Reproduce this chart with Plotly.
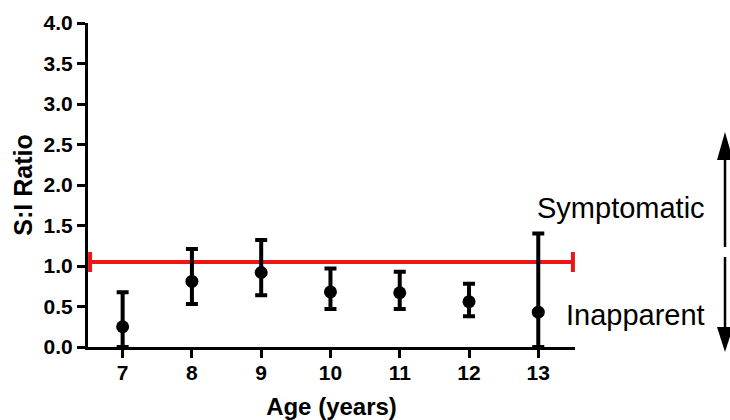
import plotly.graph_objects as go

ages = [7, 8, 9, 10, 11, 12, 13]
ratio = [0.25, 0.81, 0.92, 0.68, 0.67, 0.56, 0.43]
upper = [0.675, 1.21, 1.32, 0.97, 0.93, 0.78, 1.40]
lower = [0.0, 0.53, 0.64, 0.47, 0.47, 0.38, 0.0]
ref_y = 1.05
ref_x = [6.53, 13.5]
x_ticks = ages
y_ticks = [0, 0.5, 1.0, 1.5, 2.0, 2.5, 3.0, 3.5, 4.0]

W, H = 730, 420
L, T = 88, 23
R = W - 575
B = H - 347
PW, PH = W - L - R, H - T - B

def px(xp):
    return (xp - L) / PW

def py(yp):
    return (H - B - yp) / PH

FONT = "Liberation Sans, Arial, sans-serif"
RED = "#ee1515"

fig = go.Figure()

ref_c = (ref_x[0] + ref_x[1]) / 2
fig.add_trace(go.Scatter(
    x=[ref_c], y=[ref_y], mode="markers",
    marker=dict(size=0.1, color=RED, opacity=0),
    error_x=dict(type="data", symmetric=True, array=[(ref_x[1] - ref_x[0]) / 2],
                 color=RED, thickness=4, width=10),
    cliponaxis=False, showlegend=False, hoverinfo="skip"))

fig.add_trace(go.Scatter(
    x=ages, y=ratio, mode="markers",
    marker=dict(size=13, color="black"),
    error_y=dict(type="data", symmetric=False,
                 array=[u - r for u, r in zip(upper, ratio)],
                 arrayminus=[r - l for r, l in zip(ratio, lower)],
                 color="black", thickness=4, width=6),
    cliponaxis=False, showlegend=False))

# text labels on right
fig.add_annotation(x=px(621), y=py(208), xref="paper", yref="paper",
                   xanchor="center", yanchor="middle",
                   text="Symptomatic", showarrow=False,
                   font=dict(family=FONT, size=29, color="black"))
fig.add_annotation(x=px(635), y=py(315), xref="paper", yref="paper",
                   xanchor="center", yanchor="middle",
                   text="Inapparent", showarrow=False,
                   font=dict(family=FONT, size=29, color="black"))

# double arrow
AX = 725
fig.add_shape(type="line", xref="paper", yref="paper",
              x0=px(AX), x1=px(AX), y0=py(158), y1=py(247),
              line=dict(color="black", width=2.5))
fig.add_shape(type="line", xref="paper", yref="paper",
              x0=px(AX), x1=px(AX), y0=py(257), y1=py(330),
              line=dict(color="black", width=2.5))
fig.add_shape(type="path", xref="paper", yref="paper",
              path=f"M {px(AX)} {py(132)} L {px(AX-8)} {py(160)} L {px(AX+8)} {py(160)} Z",
              fillcolor="black", line=dict(color="black", width=0))
fig.add_shape(type="path", xref="paper", yref="paper",
              path=f"M {px(AX)} {py(352)} L {px(AX-8)} {py(327)} L {px(AX+8)} {py(327)} Z",
              fillcolor="black", line=dict(color="black", width=0))

fig.update_layout(
    width=W, height=H,
    margin=dict(l=L, r=R, t=T, b=B, autoexpand=False),
    paper_bgcolor="white", plot_bgcolor="white",
    font=dict(family=FONT, color="black"),
)
fig.update_xaxes(
    range=[6.5, 13.53], tickvals=x_ticks, ticktext=[str(a) for a in x_ticks],
    showgrid=False, zeroline=False, showline=True, linecolor="black", linewidth=3,
    ticks="outside", ticklen=8, tickwidth=3, tickcolor="black",
    ticklabelstandoff=-3,
    tickfont=dict(family=FONT, size=21, color="black", weight="bold"),
    title=dict(text="Age (years)", standoff=17,
               font=dict(family=FONT, size=24, color="black", weight="bold")),
)
fig.update_yaxes(
    range=[0, 4], tickvals=y_ticks, ticktext=[f"{v:.1f}" for v in y_ticks],
    showgrid=False, zeroline=False, showline=True, linecolor="black", linewidth=3,
    ticks="outside", ticklen=8, tickwidth=3, tickcolor="black",
    tickfont=dict(family=FONT, size=21, color="black", weight="bold"),
    title=dict(text="S:I Ratio", standoff=4,
               font=dict(family=FONT, size=25, color="black", weight="bold")),
)

fig.write_html(
    "out.html",
    config={"displayModeBar": False},
    post_script="document.body.style.margin='0';document.body.style.overflow='hidden';",
)
